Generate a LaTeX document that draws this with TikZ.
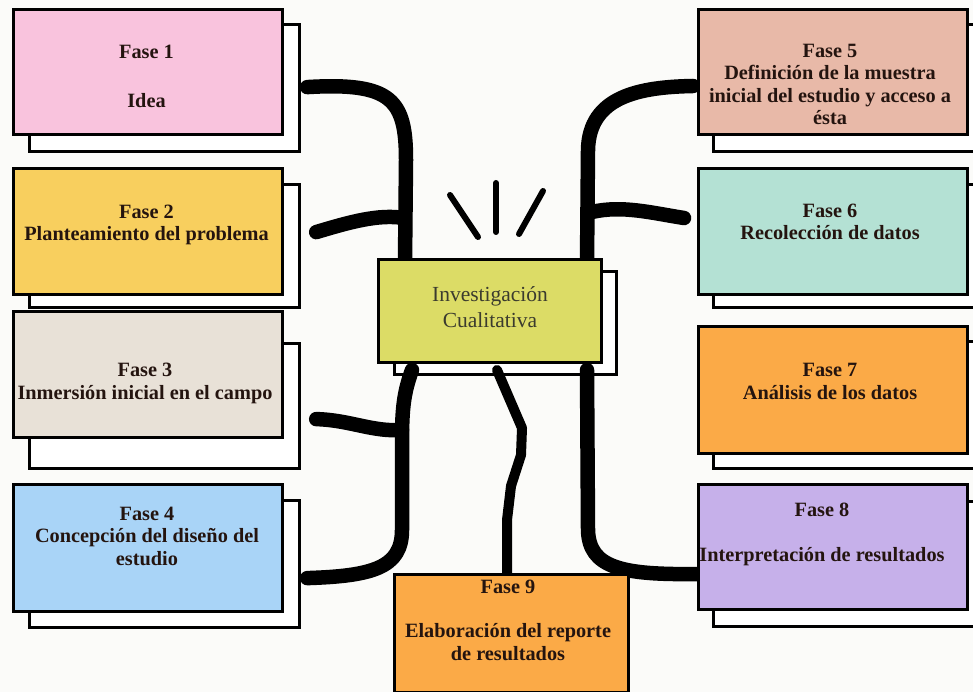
\documentclass[tikz,border=0pt]{standalone}
\usepackage{fontspec}
\setmainfont{Liberation Serif}
\usetikzlibrary{calc}

\definecolor{paper}{HTML}{FBFBF9}
\definecolor{inkdark}{HTML}{24140F}
\definecolor{inkolive}{HTML}{3B3B2E}
\definecolor{cpink}{HTML}{F9C3DD}
\definecolor{cgold}{HTML}{F8CF5E}
\definecolor{cbeige}{HTML}{E8E1D7}
\definecolor{cblue}{HTML}{A9D4F7}
\definecolor{csalmon}{HTML}{E8B9A8}
\definecolor{cmint}{HTML}{B4E1D4}
\definecolor{corange}{HTML}{FBAA47}
\definecolor{clavender}{HTML}{C6B0EA}
\definecolor{cyellow}{HTML}{DCDC66}

\tikzset{
  backbox/.style={draw=black, fill=white, line width=3.2pt, rectangle, anchor=north west, inner sep=0pt},
  frontbox/.style={draw=black, line width=3.2pt, rectangle, anchor=north west, inner sep=0pt},
  % multi-line texts are placed by the baseline of their last line
  phasetext/.style={font=\fontsize{20.3}{22.5}\selectfont\bfseries, text=inkdark, align=center, anchor=base, inner sep=0pt},
  centertext/.style={font=\fontsize{21.5}{26}\selectfont, text=inkolive, align=center, anchor=base, inner sep=0pt},
  trunk/.style={line width=14.5pt, line cap=round, line join=round, black},
  crack/.style={line width=10pt, line cap=round, line join=round, black},
  ray/.style={line width=6pt, line cap=round, black}
}

\begin{document}
\begin{tikzpicture}[x=1pt,y=-1pt]
\useasboundingbox (0,0) rectangle (973,692);
\fill[paper] (0,0) rectangle (973,692);
\clip (0,0) rectangle (973,692);

% hub points where the connectors meet the central box
\coordinate (hubUL) at (405,262);
\coordinate (hubLL) at (412,370);
\coordinate (hubUR) at (587,262);
\coordinate (hubLR) at (587,370);
\coordinate (hubC) at (497,370);

% rays above the central box
\coordinate (r1a) at (450,195); \coordinate (r1b) at (478,237);
\coordinate (r2a) at (496,183); \coordinate (r2b) at (496,232);
\coordinate (r3a) at (543,191); \coordinate (r3b) at (519,234);
\draw[ray] (r1a) -- (r1b);
\draw[ray] (r2a) -- (r2b);
\draw[ray] (r3a) -- (r3b);

% boxes: back sheets
\node[backbox, minimum width=270pt, minimum height=127pt] (s1) at (28,23) {};
\node[backbox, minimum width=270pt, minimum height=123pt] (s2) at (28,183) {};
\node[backbox, minimum width=270pt, minimum height=125pt] (s3) at (28,342) {};
\node[backbox, minimum width=270pt, minimum height=127pt] (s4) at (28,499) {};
\node[backbox, minimum width=270pt, minimum height=127pt] (s5) at (712,23) {};
\node[backbox, minimum width=270pt, minimum height=123pt] (s6) at (712,183) {};
\node[backbox, minimum width=270pt, minimum height=127pt] (s7) at (712,340) {};
\node[backbox, minimum width=270pt, minimum height=125pt] (s8) at (712,500) {};
\node[backbox, minimum width=222pt, minimum height=103pt] (sc) at (393,270) {};

% connectors from the hub to every phase
\draw[trunk] ($(s1.east)+(6,-1)$) .. controls (392,82) and (406,100) .. (406,160) -- (hubUL);
\draw[trunk] ($(s2.east)+(15,-14)$) .. controls (350,222) and (378,214) .. (404,218);
\draw[trunk] (hubLL) .. controls (404,392) and (402,408) .. (402,440) -- (402,530)
             .. controls (402,568) and (372,576) .. ($(s4.east)+(6,14)$);
\draw[trunk] ($(s3.east)+(15,13)$) .. controls (350,420) and (372,432) .. (402,430);
\draw[trunk] (hubUR) -- (588,150) .. controls (589,96) and (640,87) .. (693,86);
\draw[trunk] (592,212) .. controls (622,205) and (652,213) .. (684,218);
\draw[trunk] (hubLR) -- (588,530) .. controls (589,568) and (622,575) .. (697,574);
\draw[crack] (hubC) -- (522,428) -- (521,455) -- (511,486) -- (507,520) -- (507,575);

% boxes: front sheets
\node[frontbox, fill=cpink, minimum width=269pt, minimum height=125pt] (f1) at (12,8) {};
\node[frontbox, fill=cgold, minimum width=269pt, minimum height=126pt] (f2) at (12,167) {};
\node[frontbox, fill=cbeige, minimum width=269pt, minimum height=126pt] (f3) at (12,310) {};
\node[frontbox, fill=cblue, minimum width=269pt, minimum height=127pt] (f4) at (12,483) {};
\node[frontbox, fill=csalmon, minimum width=269pt, minimum height=125pt] (f5) at (697,8) {};
\node[frontbox, fill=cmint, minimum width=269pt, minimum height=126pt] (f6) at (697,167) {};
\node[frontbox, fill=corange, minimum width=269pt, minimum height=127pt] (f7) at (697,325) {};
\node[frontbox, fill=clavender, minimum width=269pt, minimum height=125pt] (f8) at (697,483) {};
\node[frontbox, fill=cyellow, minimum width=223pt, minimum height=103pt] (fc) at (377,258) {};
\node[frontbox, fill=corange, minimum width=234pt, minimum height=118pt] (f9) at (393,573) {};

% texts
\node[phasetext] (t1) at (146.5,108) {Fase 1\\[26.5pt]Idea};
\node[phasetext] (t2) at (146.5,241) {Fase 2\\Planteamiento del problema};
\node[phasetext] (t3) at (145,399) {Fase 3\\Inmersión inicial en el campo};
\node[phasetext] (t4) at (147,565) {Fase 4\\Concepción del diseño del\\estudio};
\node[phasetext] (t5) at (830,125) {Fase 5\\Definición de la muestra\\inicial del estudio y acceso a\\ésta};
\node[phasetext] (t6) at (830,240) {Fase 6\\Recolección de datos};
\node[phasetext] (t7) at (830,399) {Fase 7\\Análisis de los datos};
\node[phasetext] (t8) at (822,561) {Fase 8\\[22.5pt]Interpretación de resultados};
\node[phasetext] (t9) at (508,660) {Fase 9\\[21.5pt]Elaboración del reporte\\de resultados};
\node[centertext] (tc) at (490,327) {Investigación\\Cualitativa};
\end{tikzpicture}
\end{document}
